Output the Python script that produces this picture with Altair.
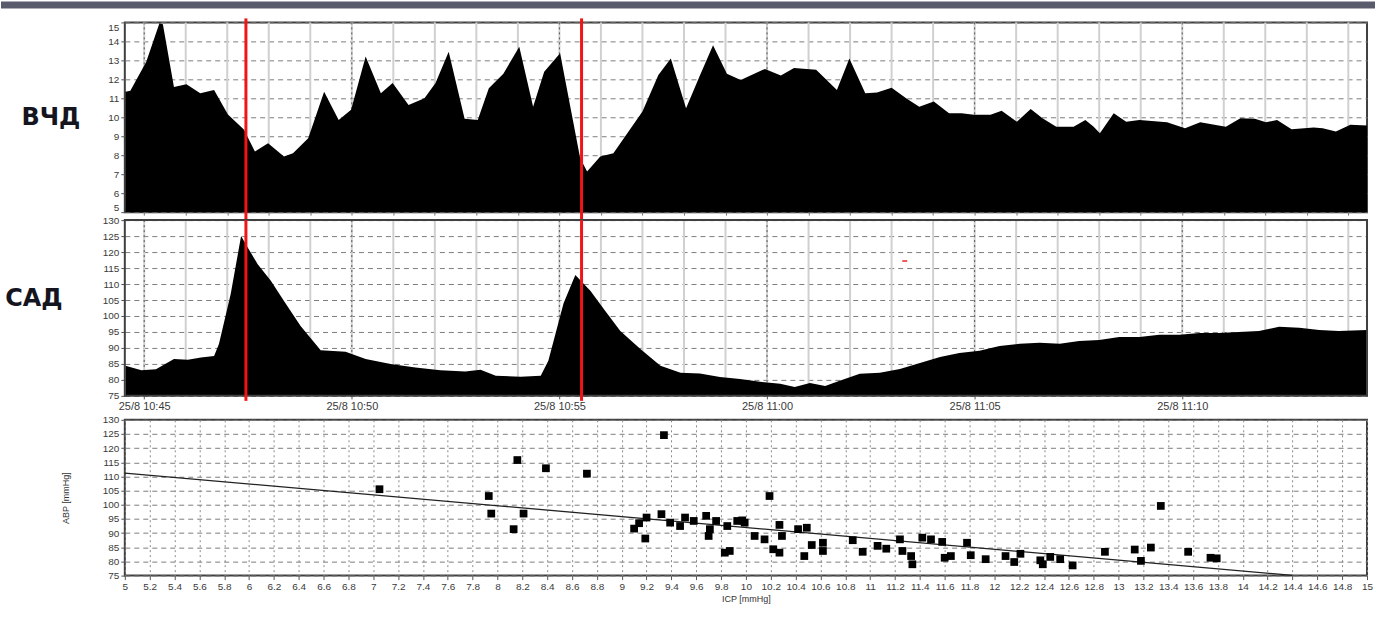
import altair as alt
import pandas as pd

# ---------------- data ----------------
DAY = "2015-08-25"
T_START = "10:44:32"
T_END = "11:14:27"
time_ticks = ["10:45:00", "10:50:00", "10:55:00", "11:00:00", "11:05:00", "11:10:00"]

# ВЧД (ICP) trend, top panel
icp_times = ["10:44:33", "10:44:40", "10:45:03", "10:45:22", "10:45:27", "10:45:43", "10:46:01", "10:46:21",
             "10:46:41", "10:47:01", "10:47:24", "10:47:40", "10:47:59", "10:48:22", "10:48:35", "10:48:57",
             "10:49:20", "10:49:41", "10:49:59", "10:50:20", "10:50:42", "10:50:59", "10:51:22", "10:51:45",
             "10:52:01", "10:52:20", "10:52:43", "10:53:02", "10:53:18", "10:53:39", "10:54:02", "10:54:22",
             "10:54:38", "10:55:01", "10:55:30", "10:55:40", "10:55:59", "10:56:18", "10:57:00", "10:57:23",
             "10:57:41", "10:58:03", "10:58:23", "10:58:42", "10:59:02", "10:59:22", "10:59:57", "11:00:20",
             "11:00:39", "11:01:11", "11:01:41", "11:01:59", "11:02:22", "11:02:39", "11:03:00", "11:03:21",
             "11:03:40", "11:04:01", "11:04:23", "11:04:41", "11:04:59", "11:05:23", "11:05:39", "11:06:01",
             "11:06:21", "11:06:38", "11:06:58", "11:07:23", "11:07:40", "11:07:52", "11:08:01", "11:08:21",
             "11:08:39", "11:08:58", "11:09:38", "11:10:04", "11:10:26", "11:11:03", "11:11:24", "11:11:45",
             "11:12:01", "11:12:17", "11:12:38", "11:13:10", "11:13:23", "11:13:42", "11:14:03", "11:14:27"]
icp_values = [11.35, 11.4, 12.93, 14.95, 14.9, 11.6, 11.74, 11.26,
              11.44, 10.14, 9.35, 8.2, 8.63, 7.93, 8.1, 8.9,
              11.35, 9.86, 10.39, 13.2, 11.26, 11.8, 10.65, 11.0,
              11.8, 13.46, 9.92, 9.86, 11.53, 12.3, 13.72, 10.56,
              12.4, 13.37, 7.84, 7.14, 7.93, 8.1, 10.3, 12.23,
              13.1, 10.47, 12.2, 13.8, 12.3, 11.97, 12.55, 12.2,
              12.6, 12.5, 11.44, 13.1, 11.26, 11.3, 11.56, 11.0,
              10.56, 10.83, 10.21, 10.21, 10.13, 10.13, 10.34, 9.77,
              10.44, 9.95, 9.5, 9.5, 9.86, 9.5, 9.16, 10.21,
              9.77, 9.86, 9.74, 9.42, 9.74, 9.5, 9.95, 9.92,
              9.74, 9.86, 9.37, 9.46, 9.42, 9.25, 9.6, 9.56]

# САД (MAP) trend, middle panel
map_times = ["10:44:33", "10:44:56", "10:45:17", "10:45:43", "10:46:03", "10:46:22", "10:46:41", "10:46:48",
             "10:47:05", "10:47:20", "10:47:30", "10:47:44", "10:48:03", "10:48:22", "10:48:46", "10:49:15",
             "10:49:51", "10:50:20", "10:50:56", "10:51:32", "10:52:08", "10:52:44", "10:53:06", "10:53:28",
             "10:54:04", "10:54:33", "10:54:44", "10:55:06", "10:55:23", "10:55:45", "10:56:06", "10:56:28",
             "10:56:57", "10:57:26", "10:57:55", "10:58:23", "10:58:52", "10:59:21", "10:59:50", "11:00:19",
             "11:00:40", "11:01:02", "11:01:24", "11:01:45", "11:02:14", "11:02:43", "11:03:12", "11:03:41",
             "11:04:10", "11:04:38", "11:05:07", "11:05:36", "11:06:05", "11:06:34", "11:07:03", "11:07:31",
             "11:08:00", "11:08:29", "11:08:58", "11:09:27", "11:09:56", "11:10:25", "11:10:53", "11:11:22",
             "11:11:51", "11:12:20", "11:12:49", "11:13:18", "11:13:46", "11:14:27"]
map_values = [84.4, 83.0, 83.3, 86.5, 86.3, 87.0, 87.5, 91.2,
              106.9, 125.0, 121.3, 116.2, 111.0, 104.7, 96.9, 89.3,
              88.8, 86.5, 85.0, 83.9, 83.0, 82.6, 83.2, 81.3,
              81.0, 81.3, 86.0, 104.0, 112.8, 107.8, 101.6, 95.3,
              89.7, 84.4, 82.2, 82.0, 80.9, 80.3, 79.4, 78.8,
              77.8, 79.0, 78.1, 79.7, 81.9, 82.2, 83.4, 85.3,
              87.2, 88.4, 89.1, 90.6, 91.3, 91.6, 91.3, 92.2,
              92.5, 93.4, 93.4, 94.1, 94.1, 94.7, 94.7, 95.0,
              95.3, 96.6, 96.3, 95.6, 95.3, 95.6]

event_times = ["10:47:27", "10:55:32"]
marker_times = ["11:03:19"]
marker_values = [117.2]

# ICP vs ABP scatter, bottom panel
scatter_icp = [7.05, 7.93, 7.95, 8.16, 8.39, 8.72, 8.21, 8.13, 9.34, 9.10,
               9.14, 9.20, 9.19, 9.32, 9.39, 9.47, 9.51, 9.58, 9.68, 9.71,
               9.70, 9.76, 9.83, 9.87, 9.85, 9.93, 9.99, 10.19, 9.97, 10.07,
               10.15, 10.22, 10.27, 10.27, 10.29, 10.42, 10.49, 10.53, 10.47, 10.62,
               10.62, 10.86, 10.94, 11.06, 11.13, 11.24, 11.26, 11.33, 11.34, 11.42,
               11.49, 11.58, 11.60, 11.65, 11.78, 11.81, 11.93, 12.09, 12.16, 12.21,
               12.37, 12.39, 12.45, 12.53, 12.63, 12.89, 13.13, 13.18, 13.26, 13.34,
               13.56, 13.74, 13.79]
scatter_abp = [105.5, 103.1, 96.9, 115.8, 112.9, 111.0, 96.9, 91.4, 124.6, 91.6,
               93.5, 95.5, 88.1, 96.7, 93.7, 92.5, 95.5, 94.3, 96.1, 91.4,
               89.0, 94.3, 83.1, 83.7, 92.5, 94.3, 93.7, 103.1, 94.5, 89.0,
               87.8, 84.3, 83.1, 92.9, 89.0, 91.4, 91.9, 85.8, 81.9, 86.6,
               83.7, 87.5, 83.4, 85.5, 84.5, 87.8, 83.7, 81.9, 79.0, 88.4,
               87.8, 86.9, 81.3, 81.9, 86.6, 82.2, 80.8, 81.9, 79.8, 82.7,
               80.4, 79.0, 81.6, 80.8, 78.6, 83.4, 84.2, 80.2, 84.9, 99.6,
               83.4, 81.3, 81.1]
fit_icp = [5.0, 14.4]
fit_abp = [111.2, 75.1]

top_ticks = list(range(5, 16))
map_ticks = list(range(75, 131, 5))
abp_ticks = list(range(75, 131, 5))
icp_ticks = [round(5 + 0.2 * i, 1) for i in range(51)]

# ---------------- helpers ----------------
def ts(hms):
    return f"{DAY}T{hms}"


def dt(hms):
    h, m, s = (int(p) for p in hms.split(":"))
    return alt.DateTime(year=2015, month=8, date=25, hours=h, minutes=m, seconds=s)


minute_times, major_times = [], []
for k in range(30):
    tot = 45 + k
    hms = f"{10 + tot // 60}:{tot % 60:02d}:00"
    minute_times.append(ts(hms))
    if k % 5 == 0:
        major_times.append(ts(hms))

icp_df = pd.DataFrame({"t": [ts(s) for s in icp_times], "v": icp_values})
map_df = pd.DataFrame({"t": [ts(s) for s in map_times], "v": map_values})
event_df = pd.DataFrame({"t": [ts(s) for s in event_times]})
marker_df = pd.DataFrame({"t": [ts(s) for s in marker_times], "v": marker_values})
minute_df = pd.DataFrame({"t": minute_times})
major_df = pd.DataFrame({"t": major_times})
scatter_df = pd.DataFrame({"icp": scatter_icp, "abp": scatter_abp})
fit_df = pd.DataFrame({"icp": fit_icp, "abp": fit_abp})
one = pd.DataFrame({"k": [0]})

W = 1244
H_TOP = 190
H_MID = 192      # 176 px of plot + 16 px strip for the time labels
H_MID_PLOT = 176
H_BOT = 156

FONT = "Liberation Sans"
LBL = "#3a3a3a"
RED = "#f01414"
FRAME = "#404040"
HGRID = "#7c7c7c"

time_scale = alt.Scale(domain=[dt(T_START), dt(T_END)])

x_top = alt.X("t:T", title=None, scale=time_scale,
              axis=alt.Axis(labels=False, ticks=True, tickSize=3, domain=False, grid=False,
                            values=[dt(s[11:]) for s in minute_times], tickColor="#777"))
x_mid = alt.X("t:T", title=None, scale=time_scale,
              axis=alt.Axis(values=[dt(s) for s in time_ticks], format="%-d/%-m %H:%M",
                            formatType="time", labelFontSize=11, tickSize=3, domain=False,
                            grid=False, offset=-16, labelPadding=2, labelFlush=False,
                            labelOverlap=False))
y_top = alt.Y("v:Q", title=None, scale=alt.Scale(domain=[5, 15], nice=False, zero=False),
              axis=alt.Axis(values=top_ticks, grid=True, gridDash=[5, 4], gridColor=HGRID,
                            domain=False, tickSize=4, labelFlush=True, labelOverlap=False))
y_mid = alt.Y("v:Q", title=None, scale=alt.Scale(domain=[70, 130], nice=False, zero=False),
              axis=alt.Axis(values=map_ticks, grid=True, gridDash=[5, 4], gridColor=HGRID,
                            domain=False, tickSize=4, labelFlush=False, labelOverlap=False))

# ---------------- top panel: ВЧД ----------------
top_grid_minor = alt.Chart(minute_df).mark_rule(color="#d0d0d0", strokeWidth=2).encode(x=x_top)
top_grid_major = alt.Chart(major_df).mark_rule(color="#555555", strokeWidth=1, strokeDash=[2, 3]).encode(x=x_top)
top_area = alt.Chart(icp_df).mark_area(color="black", opacity=1).encode(
    x=x_top, y=y_top, y2=alt.datum(5))
top_red = alt.Chart(event_df).mark_rule(color=RED, strokeWidth=3).encode(
    x=x_top, y=alt.value(-4), y2=alt.value(H_TOP + 8))
top_bar = alt.Chart(one).mark_rect(color="#595b6c").encode(
    x=alt.value(-124), x2=alt.value(W + 8), y=alt.value(-21), y2=alt.value(-14))
top_label = alt.Chart(one).mark_text(font="DejaVu Sans", fontSize=24, fontWeight="bold",
                                     color="#15151f", align="center", baseline="middle").encode(
    x=alt.value(-74), y=alt.value(96), text=alt.value("ВЧД"))

top = alt.layer(top_grid_minor, top_grid_major, top_area, top_red, top_bar, top_label).properties(
    width=W, height=H_TOP, view=alt.ViewBackground(stroke=FRAME, strokeWidth=2))

# ---------------- middle panel: САД ----------------
mid_grid_minor = alt.Chart(minute_df).mark_rule(color="#d0d0d0", strokeWidth=2).encode(
    x=x_mid, y=alt.value(0), y2=alt.value(H_MID_PLOT))
mid_grid_major = alt.Chart(major_df).mark_rule(color="#555555", strokeWidth=1, strokeDash=[2, 3]).encode(
    x=x_mid, y=alt.value(0), y2=alt.value(H_MID_PLOT))
mid_area = alt.Chart(map_df).mark_area(color="black", opacity=1).encode(
    x=x_mid, y=y_mid, y2=alt.datum(75))
mid_frame = alt.Chart(one).mark_rect(fillOpacity=0, stroke=FRAME, strokeWidth=2).encode(
    x=alt.value(0), x2=alt.value(W), y=alt.value(0), y2=alt.value(H_MID_PLOT))
mid_red = alt.Chart(event_df).mark_rule(color=RED, strokeWidth=3).encode(
    x=x_mid, y=alt.value(0), y2=alt.value(H_MID_PLOT + 5))
mid_marker = alt.Chart(marker_df).mark_tick(color=RED, orient="horizontal", size=5, thickness=2).encode(
    x=x_mid, y=y_mid)
mid_label = alt.Chart(one).mark_text(font="DejaVu Sans", fontSize=24, fontWeight="bold",
                                     color="#15151f", align="center", baseline="middle").encode(
    x=alt.value(-91), y=alt.value(79), text=alt.value("САД"))

mid = alt.layer(mid_grid_minor, mid_grid_major, mid_area, mid_frame, mid_red, mid_marker, mid_label).properties(
    width=W, height=H_MID, view=alt.ViewBackground(strokeOpacity=0))

# ---------------- bottom panel: ICP vs ABP ----------------
x_bot = alt.X("icp:Q", title="ICP [mmHg]", scale=alt.Scale(domain=[5, 15], nice=False, zero=False),
              axis=alt.Axis(values=icp_ticks, format="~g", labelOverlap=False, labelFlush=False,
                            grid=True, gridDash=[2, 3], gridColor="#8a8a8a", tickSize=4,
                            domain=False, titleFontSize=9, titlePadding=3))
y_bot = alt.Y("abp:Q", title="ABP [mmHg]", scale=alt.Scale(domain=[75, 130], nice=False, zero=False),
              axis=alt.Axis(values=abp_ticks, grid=True, gridDash=[5, 4], gridColor=HGRID,
                            domain=False, tickSize=4, labelFlush=False, labelOverlap=False,
                            titleFontSize=9, titlePadding=32))
bot_fit = alt.Chart(fit_df).mark_line(color="#222222", strokeWidth=1.3).encode(x=x_bot, y=y_bot)
bot_pts = alt.Chart(scatter_df).mark_square(color="black", size=60, opacity=1).encode(x=x_bot, y=y_bot)

bot = alt.layer(bot_fit, bot_pts).properties(
    width=W, height=H_BOT, view=alt.ViewBackground(stroke=FRAME, strokeWidth=2))

chart = alt.vconcat(top, mid, bot, spacing=8, bounds="flush").properties(
    background="white",
    padding={"left": 0, "top": 0, "right": 0, "bottom": 4},
).configure_axis(
    labelFont=FONT, labelFontSize=10, labelColor=LBL, tickColor="#555555",
    titleFont=FONT, titleColor="#333333", titleFontWeight="normal", labelOverlap=False,
)

chart.save("out.html", embed_options={"renderer": "svg", "actions": False})
